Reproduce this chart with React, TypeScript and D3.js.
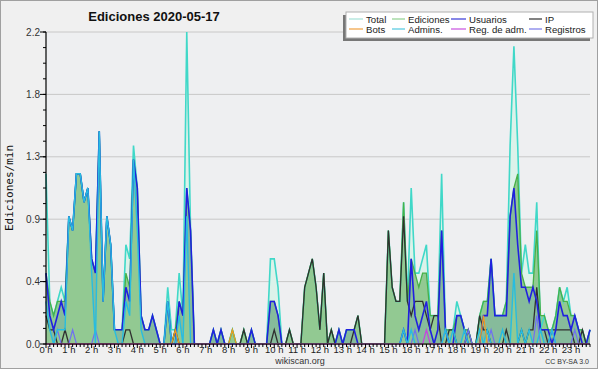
import React from 'react';
import * as d3 from 'd3';

const hourLabels = ["0 h","1 h","2 h","3 h","4 h","5 h","6 h","7 h","8 h","9 h","10 h","11 h","12 h","13 h","14 h","15 h","16 h","17 h","18 h","19 h","20 h","21 h","22 h","23 h"];
const yTickValues = [0, 0.44, 0.88, 1.32, 1.76, 2.2];
const yTickLabels = ["0.0", "0.4", "0.9", "1.3", "1.8", "2.2"];

// values per 10 minutes (edits/min), one row per hour
const total = [
1.2,0.3,0.2,0.3,0.4,0.3,
0.9,0.8,1.2,1.2,1.0,1.1,
0.6,0.5,1.5,0.3,0.9,0.7,
0.1,0.1,0.1,0.7,0.6,1.4,
1.1,0.2,0.1,0.1,0.2,0.1,
0,0,0.4,0.1,0.1,0.5,
0.2,2.2,0.8,0,0,0,
0,0,0.1,0,0.1,0,
0,0.1,0,0,0.1,0,
0.1,0,0,0,0,0.6,
0.6,0.4,0,0,0.1,0,
0,0,0.4,0.5,0.6,0.4,
0.1,0.5,0,0.1,0,0.1,
0,0.1,0.1,0.1,0.2,0,
0,0,0,0,0,0,
0.8,0.4,0.3,0.3,1.0,0.3,
1.1,0.5,0.5,0.6,0.7,0.2,
0.2,0.2,1.2,0.1,0.1,0.1,
0.3,0.2,0.1,0.1,0,0,
0.2,0.3,0.3,0.6,0.2,0.2,
0.2,0.3,1.4,2.1,1.4,0.5,
0.7,0.5,0.5,1.0,0.1,0.2,
0.1,0.1,0.2,0.4,0.3,0.4,
0.2,0.2,0.1,0.1,0,0.1];

const ediciones = [
0.5,0.3,0.2,0.3,0.3,0.3,
0.9,0.8,1.2,1.2,1.0,1.1,
0.6,0.5,1.5,0.3,0.9,0.7,
0.1,0.1,0.1,0.5,0.4,1.3,
1.1,0.2,0.1,0.1,0.2,0.1,
0,0,0.3,0,0.1,0.3,
0.2,1.1,0.8,0,0,0,
0,0,0.1,0,0.1,0,
0,0.1,0,0,0.1,0,
0.1,0,0,0,0,0.3,
0.3,0.2,0,0,0.1,0,
0,0,0.4,0.5,0.6,0.4,
0.1,0.5,0,0.1,0,0.1,
0,0.1,0.1,0.1,0.2,0,
0,0,0,0,0,0,
0.8,0.4,0.3,0.3,1.0,0.3,
0.6,0.5,0.4,0.5,0.5,0.2,
0.2,0.2,0.8,0.1,0.1,0.1,
0.2,0.2,0.1,0.1,0,0,
0.2,0.3,0.3,0.6,0.2,0.2,
0.2,0.3,0.9,1.1,1.2,0.5,
0.4,0.4,0.4,0.8,0.2,0.2,
0.1,0.1,0.2,0.4,0.3,0.3,
0.2,0.2,0.1,0.1,0,0.1];

const usuarios = [
0.5,0.2,0.1,0.2,0.3,0.2,
0.9,0.8,1.2,1.2,1.0,1.1,
0.6,0.5,1.5,0.3,0.9,0.7,
0.1,0.1,0.1,0.4,0.3,1.3,
1.1,0.2,0.1,0.1,0.2,0.1,
0,0,0.3,0,0,0.3,
0.2,1.1,0.8,0,0,0,
0,0,0.1,0,0.1,0,
0,0,0,0,0,0,
0.1,0,0,0,0,0.3,
0.3,0.2,0,0,0,0,
0,0,0,0,0,0,
0,0,0,0,0,0.1,
0,0.1,0.1,0.1,0,0,
0,0,0,0,0,0,
0,0,0,0,0.1,0,
0.6,0.2,0.1,0.2,0.3,0.1,
0,0.1,0.8,0.1,0,0,
0.2,0.2,0.1,0,0,0,
0,0.2,0.2,0.6,0.2,0.2,
0.2,0.2,0.9,1.1,0.7,0.4,
0.4,0.3,0.4,0.3,0.1,0.1,
0.1,0,0.1,0.3,0.2,0.2,
0.1,0.2,0.1,0,0,0.1];

const ip = [
0.2,0.1,0.1,0,0,0.1,
0,0,0,0,0,0,
0,0,0,0,0,0,
0,0,0,0.1,0.1,0,
0,0,0,0,0,0,
0,0,0,0,0.1,0,
0,0,0,0,0,0,
0,0,0,0,0,0,
0,0,0,0,0.1,0,
0,0,0,0,0,0,
0.1,0,0,0,0.1,0,
0,0,0.4,0.5,0.6,0.4,
0.1,0.5,0,0.1,0,0,
0,0,0,0.1,0.2,0,
0,0,0,0,0,0,
0.8,0.4,0.3,0.3,0.9,0.3,
0.2,0.3,0.3,0.3,0.2,0.1,
0.2,0.2,0,0,0.1,0.1,
0,0,0,0.1,0,0,
0.2,0.1,0.1,0,0,0,
0,0.1,0,0,0,0.1,
0,0.1,0.1,0.4,0.1,0.1,
0,0.1,0.1,0.1,0.1,0.1,
0.1,0,0,0.1,0,0];

const admins = [
0.3,0.1,0,0.1,0.1,0.1,
0.9,0.8,1.2,1.2,1.0,1.1,
0.5,0,1.5,0.3,0.9,0.7,
0.1,0,0,0.3,0.2,1.3,
0.8,0.1,0,0,0,0,
0,0,0.3,0,0,0.2,
0,0.9,0,0,0,0,
0,0,0,0,0,0,
0,0,0,0,0,0,
0,0,0,0,0,0,
0,0,0,0,0,0,
0,0,0,0,0,0,
0,0,0,0,0,0,
0,0,0,0,0,0,
0,0,0,0,0,0,
0,0,0,0,0.1,0,
0.1,0,0,0,0,0,
0,0,0,0.1,0,0.1,
0,0,0.1,0,0,0,
0.1,0,0.1,0,0,0,
0.1,0,0,0.5,0,0.1,
0,0.1,0,0,0.1,0,
0,0.1,0,0,0,0,
0,0,0,0,0,0];

const bots = [
0,0,0,0,0,0, 0,0,0,0,0,0, 0,0,0,0,0,0, 0,0,0,0,0,0,
0,0,0,0,0,0, 0,0,0,0,0.1,0, 0,0,0,0,0,0, 0,0,0,0,0,0,
0,0.1,0,0,0,0, 0,0,0,0,0,0, 0,0,0,0,0,0, 0,0,0,0,0,0,
0,0,0,0,0,0, 0,0,0,0,0,0, 0,0,0,0,0,0, 0,0,0,0,0,0,
0,0,0,0,0,0, 0,0,0,0,0,0, 0,0,0,0,0,0, 0,0.2,0,0,0,0,
0,0,0,0,0,0, 0,0,0,0,0,0, 0,0,0,0,0,0, 0,0,0,0,0,0];

const regAdm = [
0,0,0,0,0,0, 0,0,0,0,0,0, 0,0,0,0,0,0, 0,0,0,0,0,0,
0,0,0,0,0,0, 0,0,0,0,0,0, 0,0,0,0,0,0, 0,0,0,0,0,0,
0,0,0,0,0,0, 0,0,0,0,0,0, 0,0,0,0,0,0, 0,0,0,0,0,0,
0,0,0,0,0,0, 0,0,0,0,0,0, 0,0,0,0,0,0, 0,0,0,0,0,0,
0,0,0,0,0.1,0, 0,0,0,0,0,0, 0,0,0,0,0,0, 0,0,0,0,0,0,
0,0,0,0,0,0, 0,0,0,0,0,0, 0,0,0,0,0,0, 0,0,0,0,0,0];

const registros = [
0,0,0,0.1,0,0, 0,0.1,0,0,0,0, 0,0.1,0,0,0,0, 0,0,0,0,0,0,
0,0,0,0,0,0, 0,0,0,0,0,0, 0,0,0,0,0,0, 0,0,0,0,0,0,
0,0,0,0,0,0, 0,0,0,0,0,0, 0,0,0,0,0,0, 0,0,0,0,0,0,
0,0,0,0,0,0, 0,0,0,0,0,0, 0,0,0,0,0,0, 0,0,0,0,0,0,
0,0.1,0,0,0,0, 0,0,0,0.1,0,0, 0,0,0,0.1,0,0, 0,0,0,0.1,0,0,
0,0,0,0,0,0, 0,0,0,0.2,0,0, 0,0.1,0,0,0,0, 0,0.1,0,0,0,0];

const legendItems = [
  { name: "Total", color: "#a6e2d8", col: 0, row: 0 },
  { name: "Ediciones", color: "#8fd08f", col: 1, row: 0 },
  { name: "Usuarios", color: "#3838d8", col: 2, row: 0 },
  { name: "IP", color: "#303030", col: 3, row: 0 },
  { name: "Bots", color: "#f0a040", col: 0, row: 1 },
  { name: "Admins.", color: "#50c8e0", col: 1, row: 1 },
  { name: "Reg. de adm.", color: "#c850e0", col: 2, row: 1 },
  { name: "Registros", color: "#7878e8", col: 3, row: 1 },
];

export default function App() {
  const W = 600, H = 370;
  const left = 46, right = 590, top = 32, bottom = 344;
  const x = d3.scaleLinear().domain([0, 143]).range([left, right]);
  const y = d3.scaleLinear().domain([0, 2.2]).range([bottom, top]);
  const line = d3.line<number>().x((_, i) => x(i)).y(d => y(d));
  const area = d3.area<number>().x((_, i) => x(i)).y0(y(0)).y1(d => y(d));

  const minorY = d3.range(0, 21).map(k => k * 0.11);
  const font = "'Liberation Sans', Arial, sans-serif";
  const narrow = "'Liberation Sans Narrow', 'Liberation Sans', Arial, sans-serif";

  const colX = [349, 392, 451, 529];
  const textX = [366, 408, 469, 545];
  const rowY = [19, 29];

  return (
    <svg width={W} height={H} style={{ position: 'absolute', left: 0, top: 0 }} fontFamily={font}>
      <rect x={0} y={0} width={W} height={H} fill="#ffffff" />
      <rect x={0.5} y={0.5} width={597} height={368} fill="#f0f0f0" stroke="#a0a0a0" />
      <rect x={left} y={top} width={right - left} height={bottom - top} fill="#eeeff1" />

      {yTickValues.slice(1).map((v, i) => (
        <line key={'g' + i} x1={left} x2={right} y1={y(v)} y2={y(v)} stroke="#c8c8c8" strokeWidth={1} />
      ))}

      <path d={area(total) || ''} fill="#dcf2ea" />
      <path d={area(ediciones) || ''} fill="#92c992" />
      <path d={area(usuarios) || ''} fill="#4a78d0" fillOpacity={0.16} />
      <path d={area(admins) || ''} fill="#92c992" />

      <path d={line(total) || ''} fill="none" stroke="#40d8c8" strokeWidth={1.6} />
      <path d={line(ediciones) || ''} fill="none" stroke="#48b048" strokeWidth={1.3} />
      <path d={line(ip) || ''} fill="none" stroke="#303030" strokeWidth={1.3} />
      <path d={line(registros) || ''} fill="none" stroke="#7070f0" strokeWidth={1.2} />
      <path d={line(usuarios) || ''} fill="none" stroke="#2020e0" strokeWidth={1.6} />
      <path d={line(admins) || ''} fill="none" stroke="#28bce0" strokeWidth={1.4} />
      <path d={line(bots) || ''} fill="none" stroke="#f09a20" strokeWidth={1.2} />
      <path d={line(regAdm) || ''} fill="none" stroke="#c840e0" strokeWidth={1.2} />

      {/* y axis */}
      <line x1={left} x2={left} y1={top} y2={bottom} stroke="#000" strokeWidth={1.2} />
      {minorY.map((v, i) => (
        <line key={'my' + i} x1={left - 3} x2={left} y1={y(v)} y2={y(v)} stroke="#000" />
      ))}
      {yTickValues.map((v, i) => (
        <g key={'yt' + i}>
          <line x1={left - 6} x2={left} y1={y(v)} y2={y(v)} stroke="#000" />
          <text x={40} y={y(v) + 3.5} textAnchor="end" fontSize={10} fill="#333">{yTickLabels[i]}</text>
        </g>
      ))}
      <text transform={`translate(13,${188}) rotate(-90)`} textAnchor="middle" fontSize={11}
        fontFamily="'DejaVu Sans Mono', monospace" fill="#111">Ediciones/min</text>

      {/* x axis */}
      <line x1={left} x2={right} y1={bottom} y2={bottom} stroke="#000" strokeWidth={1.2} />
      {d3.range(0, 144).map(i => (
        <line key={'mx' + i} x1={x(i)} x2={x(i)} y1={bottom} y2={bottom + (i % 6 === 0 ? 4 : 3)} stroke="#000" />
      ))}
      {hourLabels.map((h, i) => (
        <text key={'xl' + i} x={x(i * 6)} y={353} textAnchor="middle" fontSize={9.5} fontFamily={narrow} fill="#222">{h}</text>
      ))}

      {/* title */}
      <text x={154} y={21} textAnchor="middle" fontSize={13} fontWeight="bold" fill="#111">Ediciones  2020-05-17</text>

      {/* legend */}
      <rect x={343} y={15} width={247} height={26} fill="#777" />
      <rect x={346} y={12} width={247} height={26} fill="#fff" stroke="#b0b0b0" />
      {legendItems.map((it, i) => (
        <g key={'lg' + i}>
          <line x1={colX[it.col]} x2={textX[it.col] - 3} y1={rowY[it.row]} y2={rowY[it.row]} stroke={it.color} strokeWidth={1.2} />
          <text x={textX[it.col]} y={rowY[it.row] + 3.5} fontSize={9.6} fill="#222">{it.name}</text>
        </g>
      ))}

      <text x={300} y={364} textAnchor="middle" fontSize={9} fill="#333">wikiscan.org</text>
      <text x={589} y={364} textAnchor="end" fontSize={7} fill="#333">CC BY-SA 3.0</text>
    </svg>
  );
}
